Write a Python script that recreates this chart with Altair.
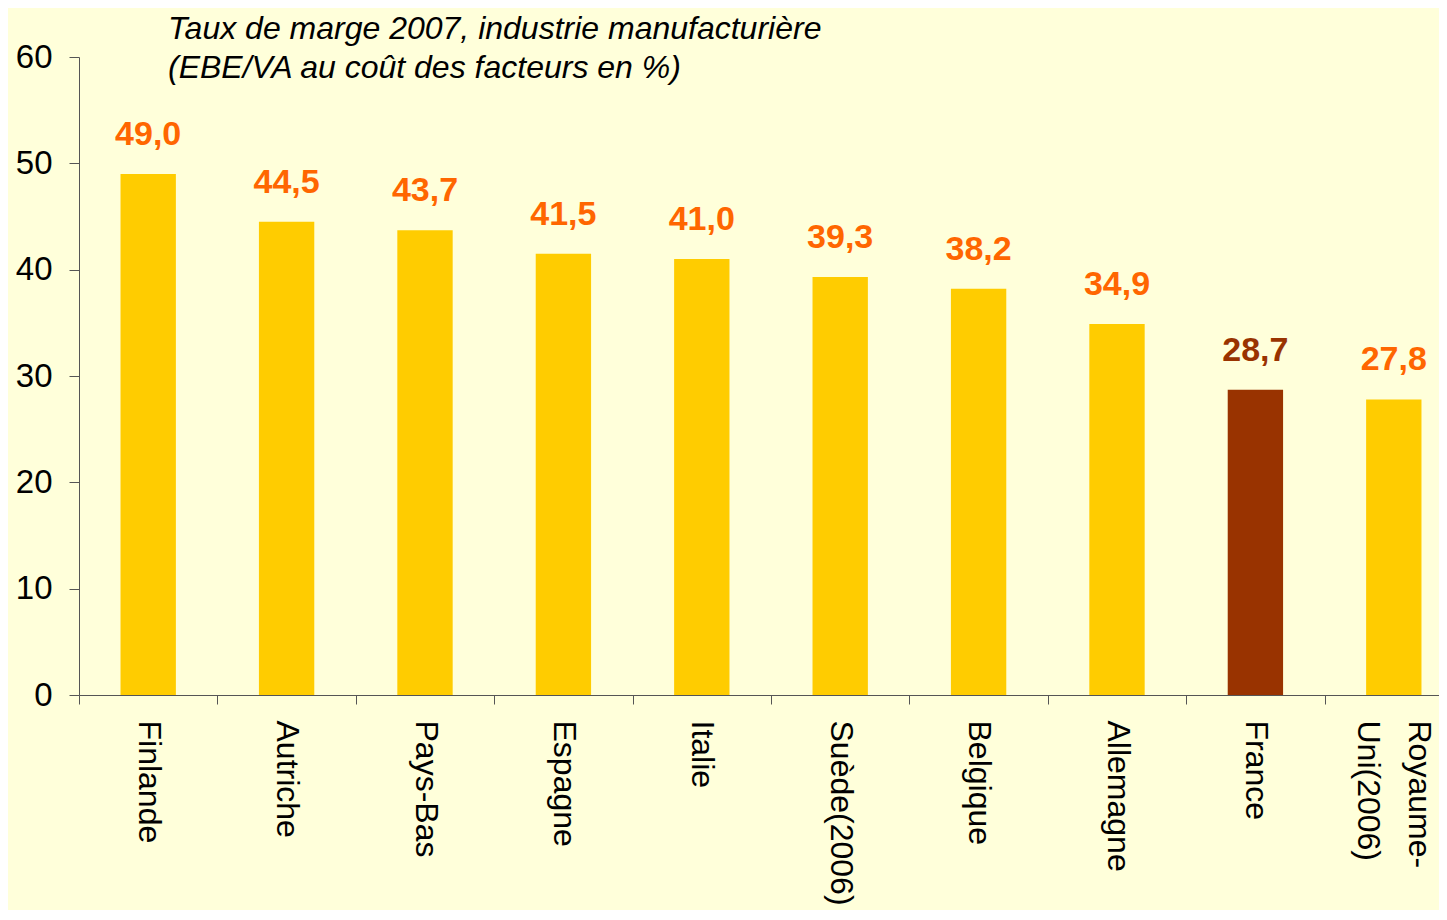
import altair as alt
import pandas as pd

countries = ["Finlande", "Autriche", "Pays-Bas", "Espagne", "Italie",
             "Suède(2006)", "Belgique", "Allemagne", "France", "Royaume-Uni(2006)"]
values = [49.0, 44.5, 43.7, 41.5, 41.0, 39.3, 38.2, 34.9, 28.7, 27.8]
labels = ["49,0", "44,5", "43,7", "41,5", "41,0", "39,3", "38,2", "34,9", "28,7", "27,8"]
highlight = ["France"]
title_lines = ["Taux de marge 2007, industrie manufacturière",
               "(EBE/VA au coût des facteurs en %)"]
y_ticks = [0, 10, 20, 30, 40, 50, 60]

df = pd.DataFrame({
    "pays": countries,
    "valeur": values,
    "label": labels,
    "groupe": ["France" if c in highlight else "Autre" for c in countries],
})

FONT = "Liberation Sans"

x_enc = alt.X(
    "pays:N", sort=countries, title=None,
    scale=alt.Scale(paddingInner=0, paddingOuter=0),
    axis=alt.Axis(
        labelAngle=90, labelAlign="left", labelBaseline="middle",
        labelFontSize=32, labelFont=FONT, labelColor="black",
        labelPadding=16, tickSize=9, tickBand="extent",
        domainColor="#555555", tickColor="#555555", labelLineHeight=51,
        labelExpr="datum.label == 'Royaume-Uni(2006)' ? ['Royaume-', 'Uni(2006)'] : datum.label",
        labelOffset={"condition": {"test": "datum.value == 'Royaume-Uni(2006)'", "value": 25},
                     "value": 0},
        labelOverlap=False, labelLimit=0,
    ),
)
y_enc = alt.Y(
    "valeur:Q", title=None,
    scale=alt.Scale(domain=[0, 60], nice=False),
    axis=alt.Axis(
        values=y_ticks, labelFontSize=33, labelFont=FONT, labelColor="black",
        labelPadding=17, tickSize=10, grid=False,
        domainColor="#555555", tickColor="#555555",
    ),
)

color_scale = alt.Scale(domain=["Autre", "France"], range=["#FFCC00", "#993300"])
text_scale = alt.Scale(domain=["Autre", "France"], range=["#FF6600", "#993300"])

bars = alt.Chart(df).mark_bar(width=alt.RelativeBandSize(0.4)).encode(
    x=x_enc, y=y_enc,
    color=alt.Color("groupe:N", scale=color_scale, legend=None),
)
texts = alt.Chart(df).mark_text(
    font=FONT, fontSize=34, fontWeight="bold", baseline="alphabetic", dy=-29,
).encode(
    x=alt.X("pays:N", sort=countries),
    y="valeur:Q",
    text="label:N",
    color=alt.Color("groupe:N", scale=text_scale, legend=None),
)

chart = alt.layer(bars, texts).resolve_scale(color="independent").properties(
    width=1384, height=638,
    title=alt.TitleParams(
        text=title_lines, anchor="start", frame="group", orient="top",
        font=FONT, fontSize=32, fontStyle="italic", fontWeight="normal",
        color="black", lineHeight=39, dx=89, dy=69, offset=0, baseline="alphabetic",
    ),
    autosize=alt.AutoSizeParams(type="none"),
    padding={"left": 71, "top": 49, "right": -24, "bottom": 215},
    background="#FFFFDA",
).configure_view(stroke=None)

chart.save("out.html", embed_options={"renderer": "svg", "actions": False})
